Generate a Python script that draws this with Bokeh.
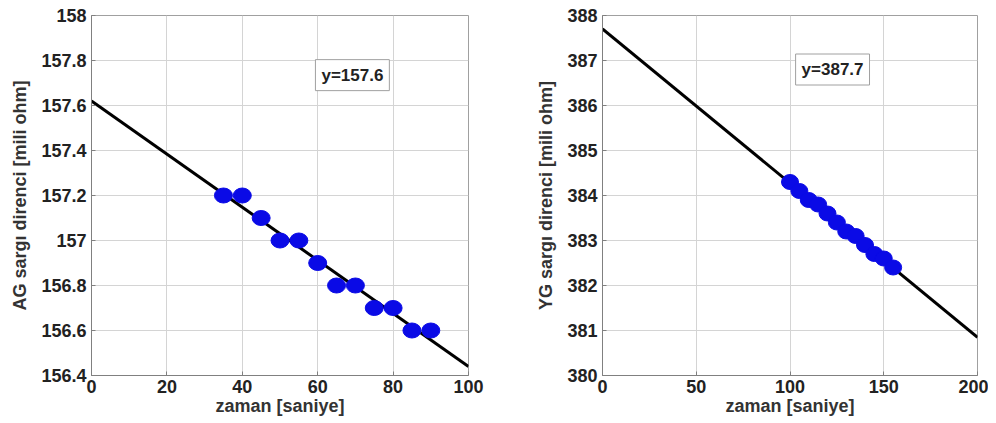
from bokeh.plotting import figure
from bokeh.layouts import row
from bokeh.models import FixedTicker, Range1d, Label
from bokeh.embed import file_html
from bokeh.resources import INLINE

# ---- data: left (AG) ----
ag_t = [35, 40, 45, 50, 55, 60, 65, 70, 75, 80, 85, 90]
ag_r = [157.2, 157.2, 157.1, 157.0, 157.0, 156.9, 156.8, 156.8, 156.7, 156.7, 156.6, 156.6]
ag_fit_t = [0, 100]
ag_fit_r = [157.62, 156.44]
ag_xticks = [0, 20, 40, 60, 80, 100]
ag_yticks = [156.4, 156.6, 156.8, 157.0, 157.2, 157.4, 157.6, 157.8, 158.0]
ag_ylabels = ["156.4", "156.6", "156.8", "157", "157.2", "157.4", "157.6", "157.8", "158"]
ag_text = "y=157.6"
ag_text_pos = (69.2, 157.735)

# ---- data: right (YG) ----
yg_t = [100, 105, 110, 115, 120, 125, 130, 135, 140, 145, 150, 155]
yg_r = [384.3, 384.1, 383.9, 383.8, 383.6, 383.4, 383.2, 383.1, 382.9, 382.7, 382.6, 382.4]
yg_fit_t = [0, 200]
yg_fit_r = [387.7, 380.85]
yg_xticks = [0, 50, 100, 150, 200]
yg_yticks = [380, 381, 382, 383, 384, 385, 386, 387, 388]
yg_text = "y=387.7"
yg_text_pos = (122.7, 386.8)

FONT = "Liberation Sans"
TXT = "#222222"


def style(p, xticks, yticks, ylabels=None):
    p.xaxis.ticker = FixedTicker(ticks=xticks)
    p.yaxis.ticker = FixedTicker(ticks=yticks)
    if ylabels:
        p.yaxis.major_label_overrides = {float(v): s for v, s in zip(yticks, ylabels)}
    for ax in (p.xaxis[0], p.yaxis[0]):
        ax.major_label_text_font = FONT
        ax.major_label_text_font_style = "bold"
        ax.major_label_text_font_size = "18px"
        ax.major_label_text_color = TXT
        ax.axis_label_text_font = FONT
        ax.axis_label_text_font_style = "bold"
        ax.axis_label_text_font_size = "18px"
        ax.axis_label_text_color = "#333333"
        ax.major_tick_in = 4
        ax.major_tick_out = 0
        ax.minor_tick_in = 0
        ax.minor_tick_out = 0
        ax.axis_line_color = "#808080"
        ax.major_tick_line_color = "#808080"
    p.xaxis.major_label_standoff = 4
    p.xaxis.axis_label_standoff = 0
    p.yaxis.major_label_standoff = 5
    p.grid.grid_line_color = "#d4d4d4"
    p.grid.grid_line_width = 1
    p.outline_line_color = "#a0a0a0"
    p.background_fill_color = "white"
    p.border_fill_color = "white"


# left figure
p1 = figure(width=486, height=418, output_backend="svg", toolbar_location=None,
            x_range=Range1d(0, 100), y_range=Range1d(156.4, 158.0),
            min_border_left=91, min_border_right=18, min_border_top=15, min_border_bottom=43)
p1.xaxis.axis_label = "zaman [saniye]"
p1.yaxis.axis_label = "AG sargı direnci [mili ohm]"
style(p1, ag_xticks, ag_yticks, ag_ylabels)
p1.yaxis.axis_label_standoff = 8
p1.line(ag_fit_t, ag_fit_r, line_color="black", line_width=3)
p1.ellipse(x=ag_t, y=ag_r, width=18, height=15, width_units="screen", height_units="screen",
           fill_color="#0a0ae6", line_color="#0a0ae6")
p1.add_layout(Label(x=ag_text_pos[0], y=ag_text_pos[1], text=ag_text, text_align="center",
                    text_baseline="middle", text_font=FONT, text_font_style="bold",
                    text_font_size="17px", text_color=TXT, padding=6,
                    border_line_color="#a0a0a0", background_fill_color="white"))

# right figure
p2 = figure(width=502, height=418, output_backend="svg", toolbar_location=None,
            x_range=Range1d(0, 200), y_range=Range1d(380, 388),
            min_border_left=116, min_border_right=11, min_border_top=15, min_border_bottom=43)
p2.xaxis.axis_label = "zaman [saniye]"
p2.yaxis.axis_label = "YG sargı direnci [mili ohm]"
style(p2, yg_xticks, yg_yticks)
p2.yaxis.axis_label_standoff = 8
p2.line(yg_fit_t, yg_fit_r, line_color="black", line_width=3)
p2.ellipse(x=yg_t, y=yg_r, width=17, height=15, width_units="screen", height_units="screen",
           fill_color="#0a0ae6", line_color="#0a0ae6")
p2.add_layout(Label(x=yg_text_pos[0], y=yg_text_pos[1], text=yg_text, text_align="center",
                    text_baseline="middle", text_font=FONT, text_font_style="bold",
                    text_font_size="17px", text_color=TXT, padding=6,
                    border_line_color="#a0a0a0", background_fill_color="white"))

layout = row(p1, p2)
open("out.html", "w").write(file_html(layout, INLINE))
